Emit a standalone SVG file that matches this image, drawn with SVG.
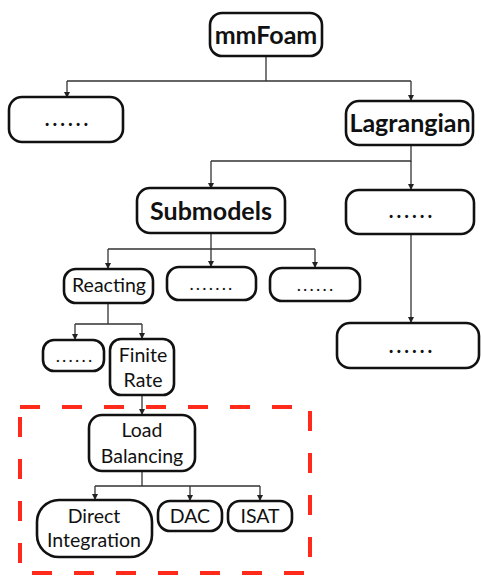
<svg xmlns="http://www.w3.org/2000/svg" width="481" height="576" viewBox="0 0 481 576">
<defs>
<marker id="ah" markerWidth="6" markerHeight="6" refX="5" refY="3" orient="auto" markerUnits="userSpaceOnUse">
<path d="M0,0 L6,3 L0,6 Z" fill="#222"/>
</marker>
<style>
.box{fill:#fff;stroke:#111;stroke-width:2.6}
.b{font-family:Lato,"Noto Sans","Liberation Sans",sans-serif;font-weight:bold;font-size:25px;fill:#111;text-anchor:middle}
.r{font-family:Lato,"Noto Sans","Liberation Sans",sans-serif;font-size:19.5px;fill:#111;text-anchor:middle}
.d{font-family:Lato,"Noto Sans","Liberation Sans",sans-serif;font-weight:bold;font-size:20px;fill:#111;text-anchor:middle;letter-spacing:3px}
.s{font-weight:normal;font-size:18px;letter-spacing:2.2px}
.c{fill:none;stroke:#333;stroke-width:1.3}
.a{marker-end:url(#ah)}
</style>
</defs>
<rect x="20" y="407" width="290" height="166" fill="none" stroke="#ff2a1a" stroke-width="4" stroke-dasharray="20 22"/>
<g id="connectors">
<path class="c" d="M266,56 V81 M67,81 H411"/>
<path class="c a" d="M67,81 V97"/>
<path class="c a" d="M411,81 V100"/>
<path class="c" d="M411,145 V161 H211"/>
<path class="c a" d="M211,161 V188"/>
<path class="c a" d="M411,161 V189"/>
<path class="c" d="M211,233 V249 M108,249 H315"/>
<path class="c a" d="M108,249 V268"/>
<path class="c a" d="M211,249 V266"/>
<path class="c a" d="M315,249 V267"/>
<path class="c a" d="M411,234 V322"/>
<path class="c" d="M108,302 V324 M75,324 H142"/>
<path class="c a" d="M75,324 V339"/>
<path class="c a" d="M142,324 V338"/>
<path class="c a" d="M142,395 V414"/>
<path class="c" d="M142,471 V486 M95,486 H260"/>
<path class="c a" d="M95,486 V499"/>
<path class="c a" d="M190,486 V500"/>
<path class="c a" d="M260,486 V500"/>
</g>
<g id="mmFoam"><rect class="box" x="210" y="13" width="112" height="43" rx="12"/><text class="b" x="266" y="44">mmFoam</text></g>
<g id="dots1"><rect class="box" x="9" y="97" width="114" height="45" rx="13"/><text class="d" x="68" y="126">......</text></g>
<g id="Lagrangian"><rect class="box" x="346" y="101" width="127" height="44" rx="13"/><text class="b" x="410" y="132">Lagrangian</text></g>
<g id="Submodels"><rect class="box" x="137" y="188" width="148" height="45" rx="13"/><text class="b" x="211" y="220">Submodels</text></g>
<g id="dots2"><rect class="box" x="346" y="190" width="128" height="44" rx="13"/><text class="d" x="412" y="218">......</text></g>
<g id="Reacting"><rect class="box" x="64" y="269" width="89" height="34" rx="12"/><text class="r" x="109" y="292">Reacting</text></g>
<g id="dots3"><rect class="box" x="167" y="267" width="89" height="33" rx="12"/><text class="d s" x="212" y="290">.......</text></g>
<g id="dots4"><rect class="box" x="270" y="268" width="90" height="33" rx="12"/><text class="d s" x="316" y="291">......</text></g>
<g id="dots5"><rect class="box" x="337" y="323" width="142" height="45" rx="13"/><text class="d" x="412" y="353">......</text></g>
<g id="dots6"><rect class="box" x="43" y="340" width="61" height="31" rx="11"/><text class="d s" x="75" y="362">......</text></g>
<g id="FiniteRate"><rect class="box" x="110" y="339" width="64" height="56" rx="11"/><text class="r" x="143" y="362">Finite</text><text class="r" x="143" y="387">Rate</text></g>
<g id="LoadBalancing"><rect class="box" x="89" y="415" width="106" height="56" rx="13"/><text class="r" x="142" y="437">Load</text><text class="r" x="142" y="463">Balancing</text></g>
<g id="DirectIntegration"><rect class="box" x="37" y="500" width="115" height="57" rx="22"/><text class="r" x="94" y="523">Direct</text><text class="r" x="94" y="547">Integration</text></g>
<g id="DAC"><rect class="box" x="158" y="501" width="64" height="30" rx="12"/><text class="r" x="190" y="523">DAC</text></g>
<g id="ISAT"><rect class="box" x="228" y="501" width="64" height="30" rx="12"/><text class="r" x="260" y="523">ISAT</text></g>
</svg>
